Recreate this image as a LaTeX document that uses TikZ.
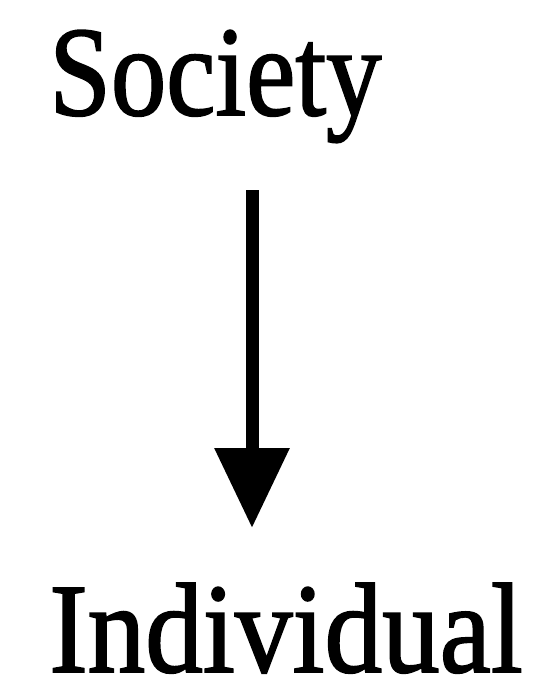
\documentclass[tikz,border=0pt]{standalone}
\usepackage{fontspec}
\newfontfamily\wordfont{Liberation Serif}[FakeBold=1.5]
\usetikzlibrary{arrows.meta}

\begin{document}
\begin{tikzpicture}[x=0.5pt, y=-0.5pt,
                    word/.style={inner sep=0pt, anchor=base west, transform shape,
                            font=\fontsize{64}{68}\wordfont},
                    arr/.style={-{Triangle[width=36pt, length=40pt]}, line width=6.5pt}]
  \useasboundingbox (0,0) rectangle (536,691);
  \node[word, xscale=0.865] (soc) at (49,115) {Society};
  \node[word, xscale=0.9] (ind) at (49,672) {Individual};
  \coordinate (top) at (252,190);
  \coordinate (tip) at (252,528);
  \draw[arr] (top) -- (tip);
\end{tikzpicture}
\end{document}
